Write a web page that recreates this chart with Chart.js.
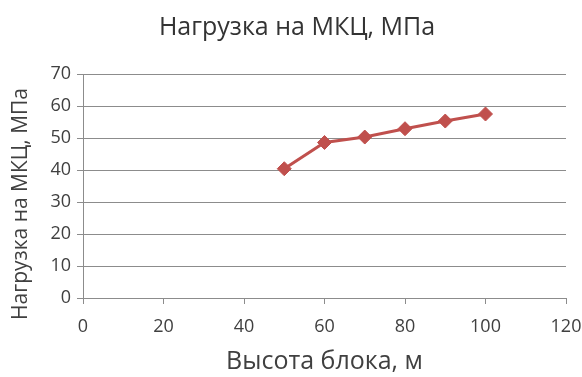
<!DOCTYPE html>
<html>
<head>
<meta charset="utf-8">
<script src="https://cdn.jsdelivr.net/npm/chart.js@4/dist/chart.umd.min.js"></script>
<style>
  html, body { margin: 0; padding: 0; background: #fff; }
</style>
</head>
<body>
<canvas id="loadChart" width="582" height="377"></canvas>
<script>
// Block height (m) vs load on the pillar (MPa)
const heights = [50, 60, 70, 80, 90, 100];
const loads = [40.4, 48.6, 50.3, 52.9, 55.3, 57.5];

const chartTitle = 'Нагрузка на МКЦ, МПа';
const xTitle = 'Высота блока, м';
const yTitle = 'Нагрузка на МКЦ, МПа';

const textColor = '#404040';
const gridColor = '#8c8c8c';
const fontFamily = '"Open Sans", "Liberation Sans", sans-serif';

// y title sits a bit lower than the plot centre, so draw it by hand
const yTitlePlugin = {
    id: 'yTitle',
    afterDraw(chart) {
        const c = chart.ctx;
        const area = chart.chartArea;
        c.save();
        c.translate(21, (area.top + area.bottom) / 2 + 18);
        c.rotate(-Math.PI / 2);
        c.textAlign = 'center';
        c.textBaseline = 'middle';
        c.fillStyle = textColor;
        c.font = '21px ' + fontFamily;
        c.fillText(yTitle, 0, 0);
        c.restore();
    }
};

const ctx = document.getElementById('loadChart').getContext('2d');
const chart = new Chart(ctx, {
    type: 'line',
    data: {
        datasets: [{
            data: heights.map((h, i) => ({ x: h, y: loads[i] })),
            borderColor: '#c0504d',
            backgroundColor: '#c0504d',
            borderWidth: 3,
            pointStyle: 'rectRot',
            pointRadius: 7,
            pointHoverRadius: 7,
            pointBorderWidth: 1,
            tension: 0,
            fill: false
        }]
    },
    options: {
        responsive: false,
        animation: false,
        layout: { padding: { left: 28, right: 16, top: 0, bottom: 0 } },
        plugins: {
            legend: { display: false },
            tooltip: { enabled: false },
            title: {
                display: true,
                text: chartTitle,
                color: '#333333',
                font: { family: fontFamily, size: 25, weight: 'normal' },
                padding: { top: 13, bottom: 31 }
            }
        },
        scales: {
            x: {
                type: 'linear',
                min: 0,
                max: 120,
                ticks: {
                    stepSize: 20,
                    color: textColor,
                    font: { family: fontFamily, size: 18 },
                    padding: 12,
                    maxRotation: 0
                },
                grid: {
                    drawOnChartArea: false,
                    drawTicks: true,
                    tickLength: 6,
                    color: gridColor
                },
                border: { display: true, color: gridColor, width: 1 },
                title: {
                    display: true,
                    text: xTitle,
                    color: textColor,
                    font: { family: fontFamily, size: 25 },
                    padding: { top: 6, bottom: 0 }
                },
                afterFit: scale => {
                    scale.height = 79;
                    scale.paddingLeft = 0;
                    scale.paddingRight = 0;
                }
            },
            y: {
                min: 0,
                max: 70,
                ticks: {
                    stepSize: 10,
                    color: textColor,
                    font: { family: fontFamily, size: 18 },
                    padding: 6
                },
                grid: {
                    color: gridColor,
                    drawTicks: true,
                    tickLength: 6
                },
                border: { display: true, color: gridColor, width: 1 },
                afterFit: scale => { scale.width = 55; }
            }
        }
    },
    plugins: [yTitlePlugin]
});
</script>
</body>
</html>
